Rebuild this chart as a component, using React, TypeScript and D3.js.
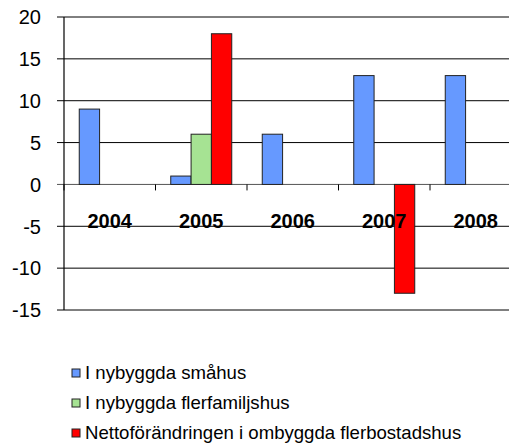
// Bostadsförändring per år, grouped bars
import React from 'react';
import * as d3 from 'd3';

const years = ['2004', '2005', '2006', '2007', '2008'];
const smahus = [9, 1, 6, 13, 13];
const flerfamiljshus = [0, 6, 0, 0, 0];
const ombyggda = [0, 18, 0, -13, 0];
const seriesNames = [
  'I nybyggda småhus',
  'I nybyggda flerfamiljshus',
  'Nettoförändringen i ombyggda flerbostadshus',
];
const seriesColors = ['#6699FF', '#A6E393', '#FF0000'];
const yTicks = [20, 15, 10, 5, 0, -5, -10, -15];

const W = 509;
const H = 443;
const font = 'Liberation Sans, Arial, sans-serif';

export default function App() {
  const left = 64;
  const right = 521.5; // plot runs past the picture edge
  const x = d3.scaleBand<string>().domain(years).range([left, right]);
  const bar = x.bandwidth() / 4.5;
  const y = d3.scaleLinear().domain([-15, 20]).range([310, 17]);

  const series = [smahus, flerfamiljshus, ombyggda];

  return (
    <svg
      width={W}
      height={H}
      style={{ position: 'absolute', left: 0, top: 0, background: '#fff' }}
      fontFamily={font}
    >
      {/* gridlines + y labels */}
      {yTicks.map(t => (
        <g key={t}>
          <line x1={57} x2={W} y1={y(t)} y2={y(t)} stroke={t === 0 ? '#555' : '#000'} strokeWidth={1} />
          <text x={41} y={y(t) + 7.3} textAnchor="end" fontSize={20} fill="#000">
            {t}
          </text>
        </g>
      ))}

      {/* bars */}
      {series.map((vals, si) =>
        vals.map((v, i) =>
          v === 0 ? null : (
            <rect
              key={si + '-' + i}
              x={(x(years[i]) as number) + x.bandwidth() / 2 - 1.5 * bar + si * bar}
              y={Math.min(y(v), y(0))}
              width={bar}
              height={Math.abs(y(v) - y(0))}
              fill={seriesColors[si]}
              stroke="#222"
              strokeWidth={1}
            />
          )
        )
      )}

      {/* y axis */}
      <line x1={left} x2={left} y1={17} y2={310} stroke="#000" strokeWidth={1.2} />

      {/* category ticks */}
      {years.map(yr => (
        <line
          key={yr}
          x1={x(yr) as number}
          x2={x(yr) as number}
          y1={y(0)}
          y2={y(0) + 6}
          stroke="#000"
        />
      ))}

      {/* category labels */}
      {years.map(yr => (
        <text
          key={yr}
          x={(x(yr) as number) + x.bandwidth() / 2}
          y={228}
          textAnchor="middle"
          fontSize={20}
          fontWeight="bold"
          fill="#000"
        >
          {yr}
        </text>
      ))}

      {/* legend */}
      {seriesNames.map((name, i) => (
        <g key={name} transform={`translate(72, ${373 + i * 30})`}>
          <rect x={0} y={-4} width={8} height={8} fill={seriesColors[i]} stroke="#222" strokeWidth={1} />
          <text x={13} y={6.4} fontSize={18.6} fill="#000">
            {name}
          </text>
        </g>
      ))}
    </svg>
  );
}
